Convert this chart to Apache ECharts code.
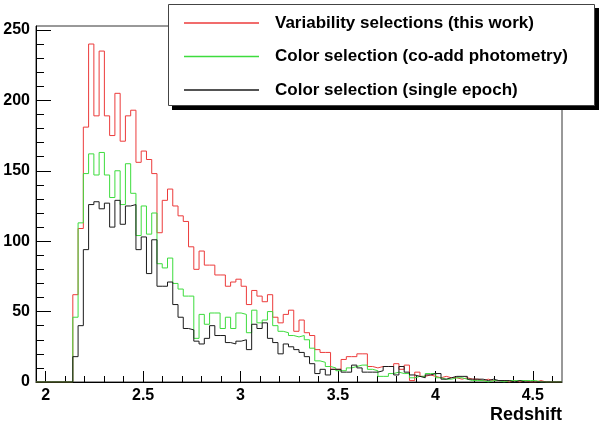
<!DOCTYPE html>
<html>
<head>
<meta charset="utf-8">
<script src="https://cdn.jsdelivr.net/npm/echarts@6/dist/echarts.min.js"></script>
<style>
html, body { margin: 0; padding: 0; background: #fff; }
#chart { width: 600px; height: 423px; }
</style>
</head>
<body>
<div id="chart"></div>
<script>
// histogram: 100 bins of 0.027 from 1.95 to 4.65
const xMin = 1.95;
const xMax = 4.65;
const binWidth = 0.027;

const redshiftTicks = [2, 2.5, 3, 3.5, 4, 4.5];
const redshiftMinorTicks = [2.1, 2.2, 2.3, 2.4, 2.6, 2.7, 2.8, 2.9, 3.1, 3.2, 3.3, 3.4,
    3.6, 3.7, 3.8, 3.9, 4.1, 4.2, 4.3, 4.4, 4.6];
const countTicks = [0, 50, 100, 150, 200, 250];
const countMinorTicks = [10, 20, 30, 40, 60, 70, 80, 90, 110, 120, 130, 140, 160, 170, 180, 190,
    210, 220, 230, 240];

const seriesNames = [
    'Variability selections (this work)',
    'Color selection (co-add photometry)',
    'Color selection (single epoch)'
];

const variability = [
    0, 0, 0, 0, 0, 0, 0, 62, 109, 181,
    240, 189, 235, 189, 175, 205, 171, 189, 193, 156,
    164, 158, 148, 106, 129, 137, 125, 118, 114, 96,
    80, 93, 83, 83, 76, 76, 68, 71, 73, 68,
    55, 65, 61, 57, 62, 46, 42, 48, 51, 36,
    44, 35, 33, 23, 21, 21, 9, 9, 16, 18,
    18, 20, 20, 11, 10, 11, 11, 11, 13, 9,
    12, 1, 7, 4, 5, 4, 3, 4, 3, 3,
    2, 3, 2, 2, 1, 2, 1, 1, 1, 0,
    1, 0, 1, 0, 0, 1, 0, 0, 0, 0
];

const coadd = [
    0, 0, 0, 0, 0, 0, 0, 46, 113, 148,
    162, 147, 163, 147, 131, 150, 126, 155, 134, 104,
    125, 105, 120, 84, 81, 88, 70, 66, 61, 61,
    31, 48, 41, 49, 49, 38, 46, 38, 49, 48,
    35, 51, 42, 44, 50, 40, 36, 35, 33, 32,
    33, 30, 24, 15, 14, 11, 10, 8, 8, 10,
    11, 12, 12, 9, 8, 4, 4, 6, 7, 6,
    6, 3, 4, 4, 6, 6, 3, 2, 2, 3,
    3, 2, 1, 1, 1, 0, 1, 1, 0, 1,
    1, 1, 1, 1, 1, 0, 0, 0, 0, 0
];

const singleEpoch = [
    0, 0, 0, 0, 0, 0, 0, 18, 40, 94,
    126, 128, 123, 127, 110, 129, 112, 125, 126, 94,
    103, 77, 101, 68, 68, 71, 55, 46, 38, 37,
    29, 27, 31, 40, 33, 33, 28, 27, 29, 30,
    23, 41, 38, 42, 31, 28, 20, 27, 25, 23,
    21, 18, 13, 6, 9, 5, 9, 9, 7, 7,
    12, 10, 7, 7, 7, 8, 11, 11, 5, 11,
    7, 5, 4, 3, 5, 6, 6, 2, 3, 4,
    4, 4, 2, 2, 2, 1, 2, 1, 1, 1,
    0, 1, 0, 0, 0, 0, 0, 0, 0, 0
];

const colors = ['#ec3b3b', '#3ddc3d', '#1a1a1a'];
const font = '"Liberation Sans", Arial, Helvetica, sans-serif';

// bin low edges + closing point, drawn as steps
const toSteps = (values) => {
    const pts = values.map((v, i) => [+(xMin + binWidth * i).toFixed(4), v]);
    pts.push([xMax, values[values.length - 1]]);
    return pts;
};

const hidden = { show: false };

const option = {
    animation: false,
    grid: {
        left: 36,
        right: 38,
        top: 26,
        bottom: 41,
        show: true,
        borderColor: '#333',
        borderWidth: 1
    },
    legend: {
        orient: 'vertical',
        left: 179,
        top: 8,
        z: 6,
        icon: 'rect',
        itemWidth: 75,
        itemHeight: 1.5,
        itemGap: 13.5,
        selectedMode: false,
        textStyle: {
            fontFamily: font,
            fontWeight: 'bold',
            fontSize: 17,
            lineHeight: 20,
            padding: [0, 0, 0, 11],
            color: '#000'
        },
        data: seriesNames
    },
    xAxis: [
        {
            type: 'value',
            position: 'bottom',
            min: xMin,
            max: xMax,
            axisLine: { show: true, lineStyle: { color: '#000', width: 1 } },
            axisTick: { inside: true, length: 11, customValues: redshiftTicks, lineStyle: { color: '#000' } },
            axisLabel: {
                customValues: redshiftTicks,
                margin: 6,
                color: '#000',
                fontFamily: font,
                fontWeight: 'bold',
                fontSize: 16
            },
            splitLine: hidden
        },
        {
            type: 'value',
            position: 'bottom',
            min: xMin,
            max: xMax,
            axisLine: hidden,
            axisTick: { inside: true, length: 6, customValues: redshiftMinorTicks, lineStyle: { color: '#000' } },
            axisLabel: hidden,
            splitLine: hidden
        }
    ],
    yAxis: [
        {
            type: 'value',
            position: 'left',
            min: 0,
            max: 252.8,
            axisLine: { show: true, lineStyle: { color: '#000', width: 1 } },
            axisTick: { inside: true, length: 15, customValues: countTicks, lineStyle: { color: '#000' } },
            axisLabel: {
                customValues: countTicks,
                margin: 6,
                color: '#000',
                fontFamily: font,
                fontWeight: 'bold',
                fontSize: 16
            },
            splitLine: hidden
        },
        {
            type: 'value',
            position: 'left',
            min: 0,
            max: 252.8,
            axisLine: hidden,
            axisTick: { inside: true, length: 8, customValues: countMinorTicks, lineStyle: { color: '#000' } },
            axisLabel: hidden,
            splitLine: hidden
        }
    ],
    graphic: [
        {
            type: 'rect',
            z: 5,
            shape: { x: 172, y: 8, width: 427, height: 102 },
            style: { fill: '#000' }
        },
        {
            type: 'rect',
            z: 5,
            shape: { x: 168.5, y: 4.5, width: 426, height: 101 },
            style: { fill: '#fff', stroke: '#444', lineWidth: 1 }
        },
        {
            type: 'text',
            z: 5,
            style: {
                text: 'Redshift',
                x: 562,
                y: 415,
                align: 'right',
                verticalAlign: 'middle',
                font: 'bold 18px ' + font,
                fill: '#000'
            }
        }
    ],
    series: [variability, coadd, singleEpoch].map((values, i) => ({
        name: seriesNames[i],
        type: 'line',
        step: 'end',
        xAxisIndex: 0,
        yAxisIndex: 0,
        symbol: 'none',
        color: colors[i],
        lineStyle: { color: colors[i], width: 1 },
        data: toSteps(values)
    }))
};

const chart = echarts.init(document.getElementById('chart'));
chart.setOption(option);
window.addEventListener('resize', () => {
    chart.resize();
});
</script>
</body>
</html>
